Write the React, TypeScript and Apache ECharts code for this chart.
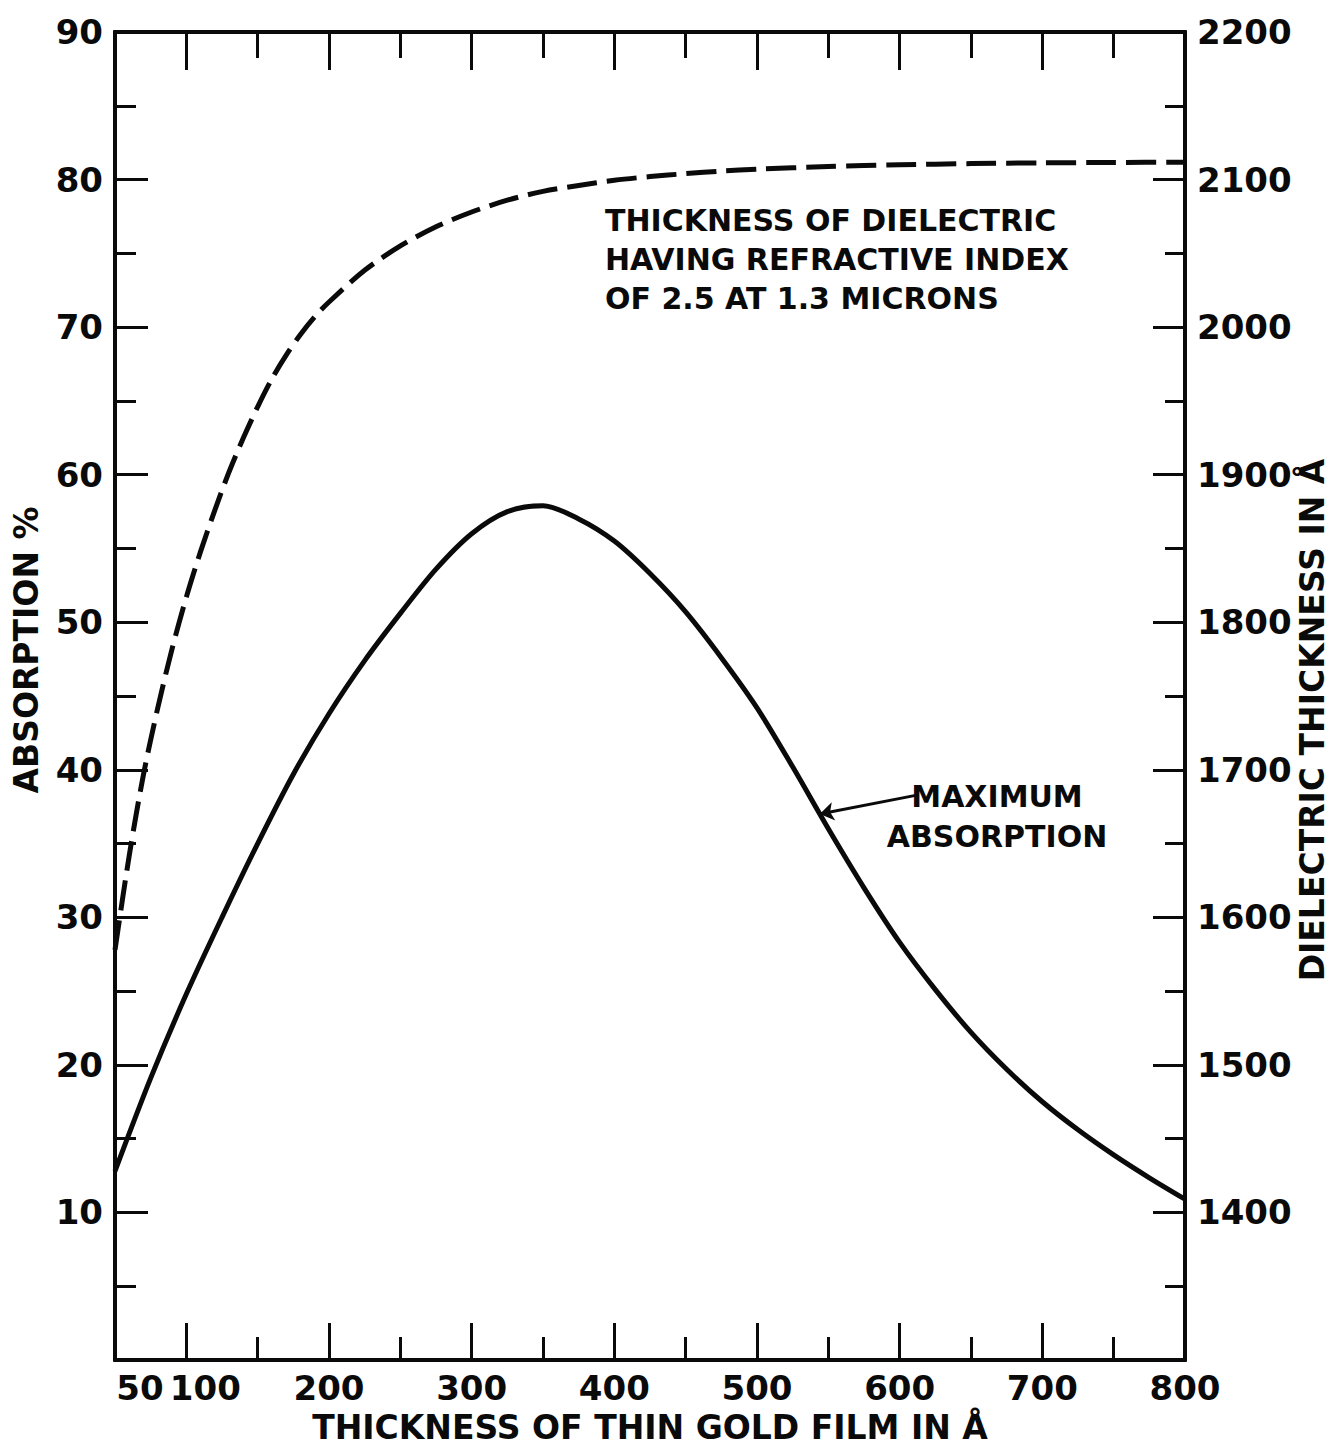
import React, { useEffect, useRef } from 'react';
import * as echarts from 'echarts';

// ---- data ----
const absorptionX = [50, 75, 100, 125, 150, 175, 200, 225, 250, 275, 300, 325, 350, 375, 400, 425, 450, 475, 500, 525, 550, 575, 600, 625, 650, 675, 700, 725, 750, 775, 800];
const absorptionY = [12.8, 19.1, 24.8, 30.0, 35.0, 39.7, 43.8, 47.4, 50.6, 53.6, 56.0, 57.5, 57.9, 57.0, 55.5, 53.3, 50.7, 47.6, 44.2, 40.2, 36.0, 32.0, 28.3, 25.1, 22.2, 19.7, 17.5, 15.6, 13.9, 12.35, 10.9];

const dielectricX = [50, 60, 70, 80, 90, 100, 110, 120, 130, 140, 150, 160, 170, 180, 190, 200, 225, 250, 275, 300, 325, 350, 375, 400, 425, 450, 475, 500, 550, 600, 650, 700, 750, 800];
const dielectricY = [1578, 1642, 1697, 1742, 1782, 1817, 1848, 1876, 1902, 1925, 1946, 1965, 1981, 1995, 2007, 2017, 2038.5, 2055, 2068, 2078, 2086, 2092, 2096, 2099.5, 2102, 2104, 2105.7, 2107, 2108.8, 2110, 2110.8, 2111.3, 2111.6, 2111.8];

const xLabelValues = [100, 200, 300, 400, 500, 600, 700, 800];
const xStartLabel = [50];
const xLongTicks = [100, 200, 300, 400, 500, 600, 700];
const xShortTicks = [150, 250, 350, 450, 550, 650, 750];

const leftLabelValues = [10, 20, 30, 40, 50, 60, 70, 80, 90];
const leftLongTicks = [10, 20, 30, 40, 50, 60, 70, 80];
const leftShortTicks = [5, 15, 25, 35, 45, 55, 65, 75, 85];

const rightLabelValues = [1400, 1500, 1600, 1700, 1800, 1900, 2000, 2100, 2200];
const rightLongTicks = [1400, 1500, 1600, 1700, 1800, 1900, 2000, 2100];
const rightShortTicks = [1350, 1450, 1550, 1650, 1750, 1850, 1950, 2050, 2150];

const arrowFrom = [613, 38.3];
const arrowTo = [544, 37.0];

const FONT = 'DejaVu Sans';
const INK = '#0a0a0a';

export default function App() {
  const ref = useRef<HTMLDivElement>(null);

  useEffect(() => {
    if (!ref.current) return;
    const chart = echarts.init(ref.current, null, { renderer: 'svg' });

    const labelStyle = { fontFamily: FONT, fontWeight: 'bold', fontSize: 34, color: INK };
    const nameStyle = { fontFamily: FONT, fontWeight: 'bold', fontSize: 33, color: INK };

    const xAxisBase = (position: string, ticks: number[], len: number, labels: number[] | null, pad: number, withName: boolean) => ({
      type: 'value',
      position,
      min: 50,
      max: 800,
      interval: 50,
      axisLine: { show: true, onZero: false, lineStyle: { color: INK, width: 4 } },
      axisTick: { show: true, inside: true, length: len, customValues: ticks, lineStyle: { color: INK, width: 3 } },
      axisLabel: labels
        ? {
            show: true,
            showMinLabel: true,
            showMaxLabel: true,
            customValues: labels,
            margin: 10,
            lineHeight: 36,
            ...labelStyle,
            formatter: (v: number) => (v === labels[0] && pad > 0 ? `{a|${v}}` : String(v)),
            rich: {
              a: { ...labelStyle, lineHeight: 36, padding: [0, 0, 0, pad] },
            },
          }
        : { show: false },
      splitLine: { show: false },
      name: withName ? 'THICKNESS OF THIN GOLD FILM IN Å' : '',
      nameLocation: 'middle',
      nameGap: 49,
      nameMoveOverlap: false,
      nameTextStyle: { ...nameStyle, lineHeight: 36 },
    });

    const yAxisBase = (
      position: string,
      min: number,
      max: number,
      interval: number,
      ticks: number[],
      len: number,
      labels: number[] | null,
      name: string,
      nameGap: number,
      namePadding: number[],
    ) => ({
      type: 'value',
      position,
      min,
      max,
      interval,
      axisLine: { show: true, onZero: false, lineStyle: { color: INK, width: 4 } },
      axisTick: { show: true, inside: true, length: len, customValues: ticks, lineStyle: { color: INK, width: 3 } },
      axisLabel: labels
        ? { show: true, showMinLabel: true, showMaxLabel: true, customValues: labels, margin: 12, ...labelStyle, formatter: (v: number) => String(v) }
        : { show: false },
      splitLine: { show: false },
      name,
      nameLocation: 'middle',
      nameRotate: 90,
      nameGap,
      nameMoveOverlap: false,
      nameTextStyle: { ...nameStyle, padding: namePadding },
    });

    chart.setOption({
      animation: false,
      backgroundColor: '#ffffff',
      grid: { left: 115, right: 146, top: 32, bottom: 87, containLabel: false, outerBoundsMode: 'none' },
      xAxis: [
        xAxisBase('bottom', xLongTicks, 37, xLabelValues, 38, true),
        xAxisBase('bottom', xShortTicks, 23, xStartLabel, 50, false),
        xAxisBase('top', xLongTicks, 38, null, 0, false),
        xAxisBase('top', xShortTicks, 26, null, 0, false),
      ],
      yAxis: [
        yAxisBase('left', 0, 90, 5, leftLongTicks, 33, leftLabelValues, 'ABSORPTION %', 72, [0, 0, 0, 92]),
        yAxisBase('left', 0, 90, 5, leftShortTicks, 21, null, '', 0, [0, 0, 0, 0]),
        yAxisBase('right', 1300, 2200, 50, rightLongTicks, 32, rightLabelValues, 'DIELECTRIC THICKNESS IN Å', 111, [0, 48, 0, 0]),
        yAxisBase('right', 1300, 2200, 50, rightShortTicks, 20, null, '', 0, [0, 0, 0, 0]),
      ],
      series: [
        {
          type: 'line',
          name: 'Maximum absorption',
          xAxisIndex: 0,
          yAxisIndex: 0,
          data: absorptionX.map((x, i) => [x, absorptionY[i]]),
          showSymbol: false,
          smooth: 0.3,
          lineStyle: { color: INK, width: 5 },
          markLine: {
            silent: true,
            animation: false,
            label: { show: false },
            lineStyle: { color: INK, width: 3, type: 'solid' },
            symbolSize: 14,
            data: [
              [
                { coord: arrowFrom, symbol: 'none' },
                { coord: arrowTo, symbol: 'arrow' },
              ],
            ],
          },
        },
        {
          type: 'line',
          name: 'Dielectric thickness',
          xAxisIndex: 0,
          yAxisIndex: 2,
          data: dielectricX.map((x, i) => [x, dielectricY[i]]),
          showSymbol: false,
          smooth: 0.3,
          lineStyle: { color: INK, width: 5, type: [30, 10] },
        },
      ],
      graphic: [
        {
          type: 'text',
          left: 605,
          top: 201,
          style: {
            text: 'THICKNESS OF DIELECTRIC\nHAVING REFRACTIVE INDEX\nOF 2.5 AT 1.3 MICRONS',
            font: `bold 30px "${FONT}"`,
            fill: INK,
            lineHeight: 39,
          },
        },
        {
          type: 'text',
          x: 997,
          y: 776,
          style: {
            text: 'MAXIMUM\nABSORPTION',
            font: `bold 30px "${FONT}"`,
            fill: INK,
            align: 'center',
            lineHeight: 40,
          },
        },
      ],
    });

    return () => chart.dispose();
  }, []);

  return <div ref={ref} style={{ position: 'absolute', left: 0, top: 0, width: 1331, height: 1447 }} />;
}
